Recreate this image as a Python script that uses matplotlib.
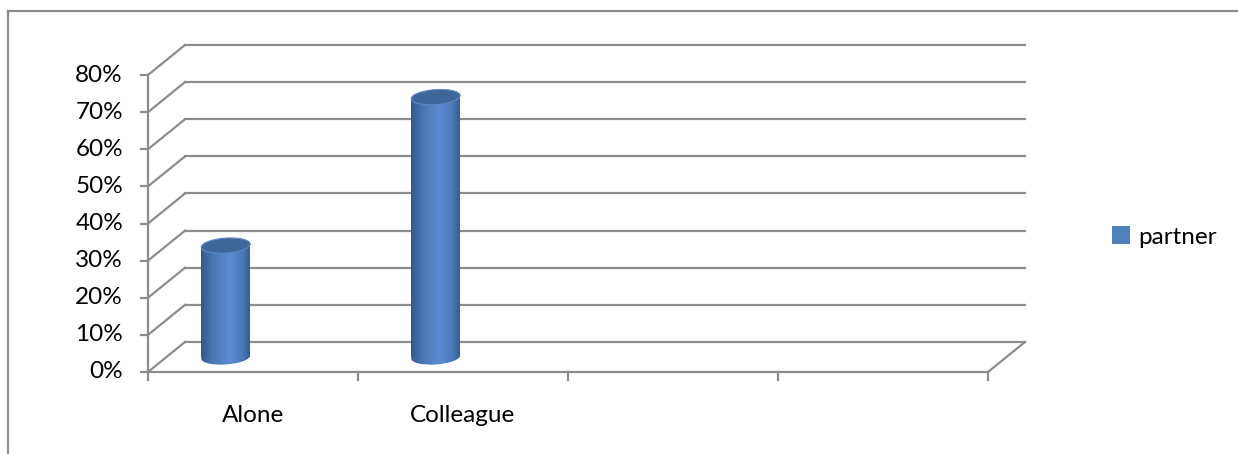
import numpy as np
import matplotlib.pyplot as plt
from matplotlib.patches import Rectangle, Ellipse
from matplotlib.colors import LinearSegmentedColormap
from matplotlib.lines import Line2D
from matplotlib.transforms import ScaledTranslation

categories = ['Alone', 'Colleague', '', '']
partner = [0.30, 0.70, np.nan, np.nan]
y_ticks = [0.0, 0.1, 0.2, 0.3, 0.4, 0.5, 0.6, 0.7, 0.8]
series_name = 'partner'

W, H = 1238, 454
fig = plt.figure(figsize=(W / 100, H / 100), dpi=100)
ax = fig.add_axes([0, 0, 1, 1])
ax.axis('off')

# pixel layout of the front plane
x_px0, x_px_per = 148, 210.0
y_px0, y_px_per = 372, 371.25
xlim = (-x_px0 / x_px_per, (W - x_px0) / x_px_per)
ylim = (-(H - y_px0) / y_px_per, y_px0 / y_px_per)
ax.set_xlim(*xlim)
ax.set_ylim(*ylim)

grid_c = '#8c8c8c'
fsize = 17.5
n = len(categories)
ymax = y_ticks[-1]
dx, dy = 37 / x_px_per, 30 / y_px_per   # depth offset

# back wall grid + side wall diagonals
for v in y_ticks:
    ax.plot([dx, n + dx], [v + dy, v + dy], color=grid_c, lw=1.6, zorder=1)
    ax.plot([0, dx], [v, v + dy], color=grid_c, lw=1.6, zorder=1)
# floor
ax.plot([0, n], [0, 0], color=grid_c, lw=1.6, zorder=1)
ax.plot([n, n + dx], [0, dy], color=grid_c, lw=1.6, zorder=1)
# value axis
ax.plot([0, 0], [0, ymax], color=grid_c, lw=1.6, zorder=1)
tick_x = 7 / x_px_per
for v in y_ticks:
    ax.plot([-tick_x, 0], [v, v], color=grid_c, lw=1.6, zorder=1)
    ax.text(-25 / x_px_per, v, f'{v:.0%}', ha='right', va='center',
            fontsize=fsize, family='Lato', color='black')
tick_y = 8 / y_px_per
for i in range(n + 1):
    ax.plot([i, i], [0, -tick_y], color=grid_c, lw=1.6, zorder=1)
for i, c in enumerate(categories):
    ax.text(i + 0.5, -43 / y_px_per, c, ha='center', va='center',
            fontsize=fsize, family='Lato', color='black')

# cylinders
cyl_cmap = LinearSegmentedColormap.from_list(
    'cyl', [(0, '#33598a'), (0.25, '#4a78b8'), (0.6, '#5b8cd2'),
            (0.85, '#4a79ba'), (1, '#365e92')])
grad = np.linspace(0, 1, 200).reshape(1, -1)
bw_px, eh_px, tilt = 49, 15, 4
bw = bw_px / x_px_per
eh = eh_px / y_px_per
for i, v in enumerate(partner):
    if np.isnan(v):
        continue
    xc = i + 0.37
    x0, x1 = xc - bw / 2, xc + bw / 2
    base, top = dy / 2, v + dy / 2
    rect = Rectangle((x0, base), bw, top - base, transform=ax.transData)
    ell = Ellipse((0, 0), bw_px, eh_px, angle=tilt,
                  transform=ScaledTranslation(xc, base, ax.transData))
    for clip in (rect, ell):
        im = ax.imshow(grad, cmap=cyl_cmap, extent=(x0, x1, base - eh, top),
                       aspect='auto', interpolation='bilinear', zorder=3)
        im.set_clip_path(clip)
    ax.add_patch(Ellipse((0, 0), bw_px, eh_px, angle=tilt,
                         transform=ScaledTranslation(xc, top, ax.transData),
                         facecolor='#3e6699', edgecolor='#5b89c6', lw=0.8,
                         zorder=4))

ax.set_xlim(*xlim)
ax.set_ylim(*ylim)

# legend
handle = Rectangle((0, 0), 1, 1, facecolor='#4f81bd')
fig.legend([handle], [series_name], loc='center left',
           bbox_to_anchor=(1112 / W, 1 - 237 / H), frameon=False,
           prop={'family': 'Lato', 'size': fsize}, handlelength=0.75,
           handleheight=0.75, handletextpad=0.35, borderpad=0, borderaxespad=0)

# outer chart border (left and top visible)
fig.add_artist(Line2D([8 / W, 8 / W], [0, 1 - 11 / H], color='#8c8c8c', lw=1.6,
                      transform=fig.transFigure))
fig.add_artist(Line2D([8 / W, 1], [1 - 11 / H, 1 - 11 / H], color='#8c8c8c',
                      lw=1.6, transform=fig.transFigure))

fig.savefig('out.png', dpi=100)
